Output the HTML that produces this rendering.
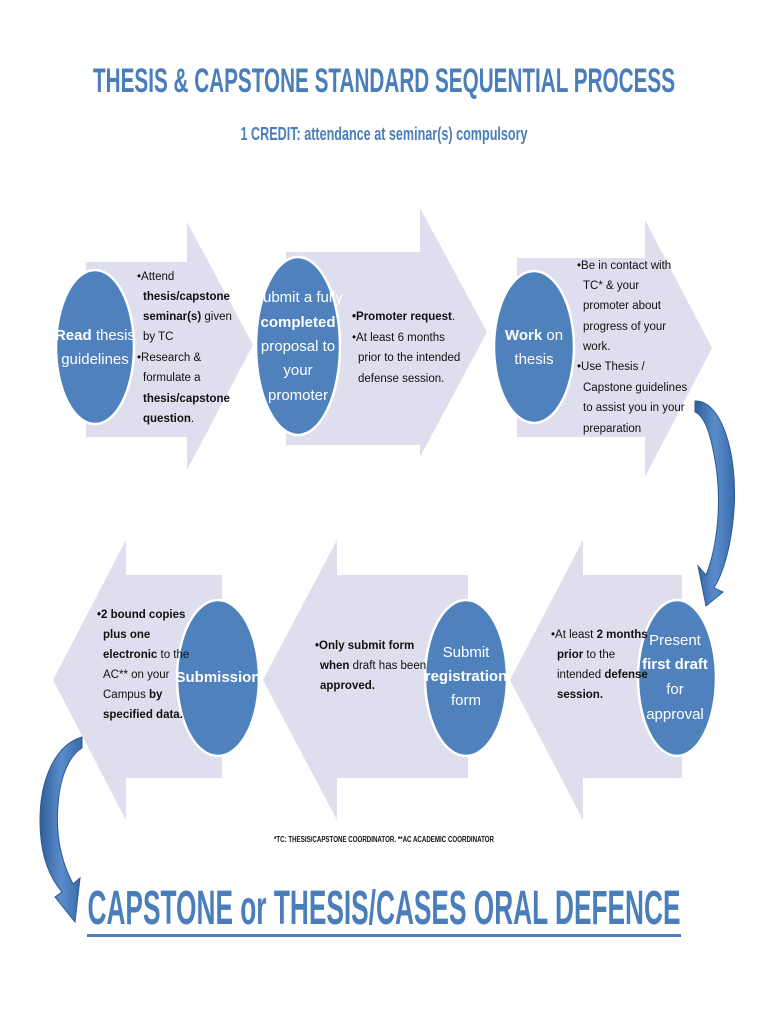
<!DOCTYPE html>
<html><head><meta charset="utf-8"><style>
html,body{margin:0;padding:0;background:#fff;}
svg{display:block;}
text{font-family:"Liberation Sans Narrow","Liberation Sans",sans-serif;}
.b{font-size:11.5px;fill:#111;}
.c{font-size:15px;fill:#fff;text-anchor:middle;}
</style></head><body>
<svg width="768" height="1024" viewBox="0 0 768 1024" xmlns="http://www.w3.org/2000/svg">
<defs>
<linearGradient id="g" x1="0" y1="0" x2="1" y2="0"><stop offset="0" stop-color="#2f5f9a"/><stop offset="0.5" stop-color="#5a8ccc"/><stop offset="1" stop-color="#3a6aa8"/></linearGradient>
</defs>
<text x="384" y="92" text-anchor="middle" font-size="34" font-weight="bold" fill="#4a7ebb" textLength="582" lengthAdjust="spacingAndGlyphs">THESIS &amp; CAPSTONE STANDARD SEQUENTIAL PROCESS</text>
<text x="384" y="140" text-anchor="middle" font-size="18" font-weight="bold" fill="#4a7ebb" textLength="287" lengthAdjust="spacingAndGlyphs">1 CREDIT: attendance at seminar(s) compulsory</text>

<!-- top arrows -->
<polygon fill="#dedeee" points="86,262 187,262 187,222 253,345 187,470 187,437 86,437"/>
<polygon fill="#dedeee" points="286,252 420,252 420,208 487,332 420,457 420,445 286,445"/>
<polygon fill="#dedeee" points="517,258 645,258 645,220 712,348 645,477 645,437 517,437"/>
<!-- bottom arrows -->
<polygon fill="#dedeee" points="682,575 583,575 583,540 510,680 583,820 583,778 682,778"/>
<polygon fill="#dedeee" points="468,575 337,575 337,540 263,680 337,820 337,778 468,778"/>
<polygon fill="#dedeee" points="222,575 126,575 126,540 53,680 126,820 126,778 222,778"/>

<!-- circles -->
<g fill="#4f81bd" stroke="#fff" stroke-width="2.5">
<ellipse cx="95" cy="347" rx="39" ry="77"/>
<ellipse cx="298" cy="346" rx="42" ry="89"/>
<ellipse cx="534" cy="347" rx="40" ry="76"/>
<ellipse cx="218" cy="678" rx="41" ry="78"/>
<ellipse cx="466" cy="678" rx="41" ry="78"/>
<ellipse cx="677" cy="678" rx="39" ry="78"/>
</g>
<text class="c" x="95" y="340"><tspan font-weight="bold">Read</tspan> thesis</text>
<text class="c" x="95" y="364">guidelines</text>
<text class="c" x="298" y="302">Submit a fully</text>
<text class="c" x="298" y="327" font-weight="bold">completed</text>
<text class="c" x="298" y="351">proposal to</text>
<text class="c" x="298" y="375">your</text>
<text class="c" x="298" y="400">promoter</text>
<text class="c" x="534" y="340"><tspan font-weight="bold">Work</tspan> on</text>
<text class="c" x="534" y="364">thesis</text>
<text class="c" x="218" y="682" font-weight="bold">Submission</text>
<text class="c" x="466" y="657">Submit</text>
<text class="c" x="466" y="681" font-weight="bold">registration</text>
<text class="c" x="466" y="705">form</text>
<text class="c" x="675" y="645">Present</text>
<text class="c" x="675" y="669" font-weight="bold">first draft</text>
<text class="c" x="675" y="694">for</text>
<text class="c" x="675" y="719">approval</text>

<!-- bullets -->
<g class="b">
<text x="137" y="280">•Attend</text>
<text x="143" y="300" font-weight="bold">thesis/capstone</text>
<text x="143" y="320"><tspan font-weight="bold">seminar(s)</tspan> given</text>
<text x="143" y="340">by TC</text>
<text x="137" y="361">•Research &amp;</text>
<text x="143" y="381">formulate a</text>
<text x="143" y="402" font-weight="bold">thesis/capstone</text>
<text x="143" y="422"><tspan font-weight="bold">question</tspan>.</text>

<text x="352" y="320"><tspan font-weight="bold">•Promoter request</tspan>.</text>
<text x="352" y="341">•At least 6 months</text>
<text x="358" y="361">prior to the intended</text>
<text x="358" y="382">defense session.</text>

<text x="577" y="269">•Be in contact with</text>
<text x="583" y="289">TC* &amp; your</text>
<text x="583" y="309">promoter about</text>
<text x="583" y="330">progress of your</text>
<text x="583" y="350">work.</text>
<text x="577" y="370">•Use Thesis /</text>
<text x="583" y="391">Capstone guidelines</text>
<text x="583" y="411">to assist you in your</text>
<text x="583" y="432">preparation</text>

<text x="97" y="618" font-weight="bold">•2 bound copies</text>
<text x="103" y="638" font-weight="bold">plus one</text>
<text x="103" y="658"><tspan font-weight="bold">electronic</tspan>  to the</text>
<text x="103" y="678">AC** on your</text>
<text x="103" y="698">Campus <tspan font-weight="bold">by</tspan></text>
<text x="103" y="718" font-weight="bold">specified data.</text>

<text x="315" y="649" font-weight="bold">•Only submit form</text>
<text x="320" y="669"><tspan font-weight="bold">when</tspan> draft has been</text>
<text x="320" y="689" font-weight="bold">approved.</text>

<text x="551" y="638">•At least <tspan font-weight="bold">2 months</tspan></text>
<text x="557" y="658"><tspan font-weight="bold">prior</tspan> to the</text>
<text x="557" y="678">intended <tspan font-weight="bold">defense</tspan></text>
<text x="557" y="698" font-weight="bold">session.</text>
</g>

<!-- curved arrows -->
<path fill="url(#g)" stroke="#2c5a94" stroke-width="1" d="M695,401 C720,400 738,450 734,510 C731,550 722,575 714,588 L723,592 L706,606 L698,566 L706,575 C718,545 722,500 715,460 C710,430 703,415 695,412 Z"/>
<path fill="url(#g)" stroke="#2c5a94" stroke-width="1" d="M82,737 C55,745 40,780 40,820 C40,860 52,880 62,892 L55,897 L75,922 L80,878 L73,884 C63,865 55,840 58,805 C60,775 70,755 82,748 Z"/>

<text x="384" y="842" text-anchor="middle" font-size="8" font-weight="bold" fill="#111" textLength="220" lengthAdjust="spacingAndGlyphs">*TC: THESIS/CAPSTONE COORDINATOR. **AC ACADEMIC COORDINATOR</text>

<text x="384" y="924" text-anchor="middle" font-size="48" font-weight="bold" fill="#4a7ebb" textLength="593" lengthAdjust="spacingAndGlyphs">CAPSTONE or THESIS/CASES ORAL DEFENCE</text>
<rect x="87" y="934" width="594" height="3" fill="#4a7ebb"/>
</svg>
</body></html>
